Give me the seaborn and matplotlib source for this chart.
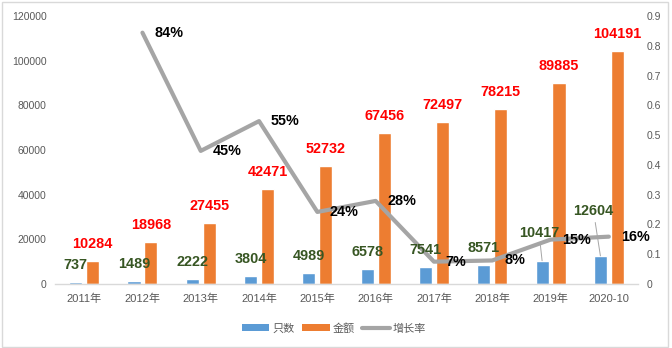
import matplotlib
matplotlib.use('Agg')
import matplotlib.pyplot as plt
import seaborn as sns
import pandas as pd
from matplotlib.lines import Line2D
from matplotlib.patches import Patch, Rectangle

# ---- data ----
years = ['2011年', '2012年', '2013年', '2014年', '2015年', '2016年', '2017年', '2018年', '2019年', '2020-10']
counts = [737, 1489, 2222, 3804, 4989, 6578, 7541, 8571, 10417, 12604]
amounts = [10284, 18968, 27455, 42471, 52732, 67456, 72497, 78215, 89885, 104191]
growth_years = ['2012年', '2013年', '2014年', '2015年', '2016年', '2017年', '2018年', '2019年', '2020-10']
growth = [0.844, 0.447, 0.547, 0.242, 0.279, 0.075, 0.079, 0.149, 0.159]
growth_labels = ['84%', '45%', '55%', '24%', '28%', '7%', '8%', '15%', '16%']
series_names = ['只数', '金额', '增长率']
left_ticks = [0, 20000, 40000, 60000, 80000, 100000, 120000]
right_ticks = [0, 0.1, 0.2, 0.3, 0.4, 0.5, 0.6, 0.7, 0.8, 0.9]
right_tick_labels = ['0', '0.1', '0.2', '0.3', '0.4', '0.5', '0.6', '0.7', '0.8', '0.9']

BLUE = '#5B9BD5'
ORANGE = '#ED7D31'
GRAY = '#A5A5A5'
TICK = '#595959'

sns.set_theme(style='white')
plt.rcParams['font.family'] = ['Liberation Sans', 'Noto Sans CJK SC', 'DejaVu Sans']

fig = plt.figure(figsize=(6.72, 3.48), dpi=100)
ax = fig.add_axes([55 / 672, 64 / 348, (638 - 55) / 672, (284 - 16) / 348])

df = pd.DataFrame({
    'year': years * 2,
    'value': counts + amounts,
    'series': [series_names[0]] * len(years) + [series_names[1]] * len(years),
})
sns.barplot(data=df, x='year', y='value', hue='series', order=years,
            hue_order=series_names[:2], palette=[BLUE, ORANGE],
            width=0.58, gap=0.23, saturation=1, errorbar=None,
            legend=False, ax=ax)

ax.set_ylim(0, 120000)
ax.set_yticks(left_ticks)
ax.set_yticklabels([str(t) for t in left_ticks])
ax.set_xlabel('')
ax.set_ylabel('')
for s in ['top', 'right', 'left']:
    ax.spines[s].set_visible(False)
ax.spines['bottom'].set_color('#D9D9D9')
ax.spines['bottom'].set_linewidth(1)
ax.tick_params(axis='both', length=0, colors=TICK)
ax.tick_params(axis='y', labelsize=7.5, pad=6)
ax.tick_params(axis='x', labelsize=8, pad=7)
ax.grid(False)

# growth line on secondary axis
ax2 = ax.twinx()
xpos = [years.index(y) for y in growth_years]
sns.lineplot(x=xpos, y=growth, ax=ax2, color=GRAY, linewidth=3, legend=False)
ax2.set_ylim(0, 0.9)
ax2.set_yticks(right_ticks)
ax2.set_yticklabels(right_tick_labels)
ax2.set_xlim(-0.5, len(years) - 0.5)
for s in ['top', 'right', 'left', 'bottom']:
    ax2.spines[s].set_visible(False)
ax2.tick_params(axis='y', length=0, colors=TICK, labelsize=7.5, pad=6)
ax2.grid(False)
ax2.set_ylabel('')

# bar labels (drawn on the top axes so they sit above the line)
cont_counts, cont_amounts = ax.containers[0], ax.containers[1]
count_offsets = {8: (-2.2, 20), 9: (-5, 32.4)}
for i, (bar, v) in enumerate(zip(cont_counts, counts)):
    xc = bar.get_x() + bar.get_width() / 2
    dx, dy = count_offsets.get(i, (0, 12.2))
    kw = {}
    if i in count_offsets:
        kw['arrowprops'] = dict(arrowstyle='-', color=GRAY, lw=0.7, shrinkA=1, shrinkB=0)
    ax2.annotate(str(v), (xc, v), xycoords=ax.transData, xytext=(dx, dy),
                 textcoords='offset points', ha='center', va='center',
                 fontsize=10.4, fontweight='bold', color='#375623', zorder=5, **kw)
for bar, v in zip(cont_amounts, amounts):
    xc = bar.get_x() + bar.get_width() / 2
    ax2.annotate(str(v), (xc, v), xycoords=ax.transData, xytext=(0, 12.2),
                 textcoords='offset points', ha='center', va='center',
                 fontsize=10.4, fontweight='bold', color='#FF0000', zorder=5)

for x, g, lab in zip(xpos, growth, growth_labels):
    ax2.annotate(lab, (x, g), xytext=(8.5, 0), textcoords='offset points',
                 ha='left', va='center', fontsize=10.4, fontweight='bold',
                 color='black', zorder=5)

# legend
handles = [Patch(facecolor=BLUE, edgecolor='none'),
           Patch(facecolor=ORANGE, edgecolor='none'),
           Line2D([], [], color=GRAY, lw=3)]
leg = fig.legend(handles, series_names, loc='center', bbox_to_anchor=(0.497, 0.057),
                 ncol=3, frameon=False, fontsize=8, handlelength=2.5,
                 handleheight=0.6, columnspacing=0.6, handletextpad=0.3)
for t in leg.get_texts():
    t.set_color(TICK)

# chart border
fig.patches.append(Rectangle((1.5 / 672, 1.5 / 348), (668 - 1.5) / 672, (346 - 1.5) / 348,
                             transform=fig.transFigure, fill=False,
                             edgecolor='#D9D9D9', linewidth=1))

fig.savefig('out.png', dpi=100)
